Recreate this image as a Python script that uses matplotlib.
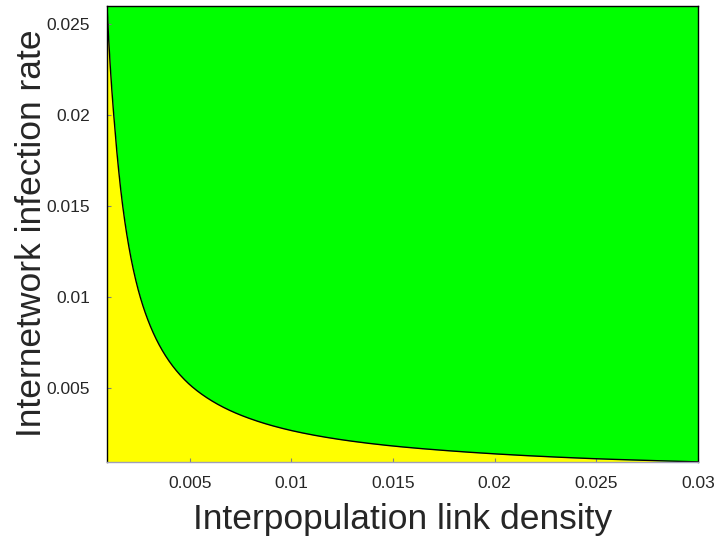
import matplotlib
matplotlib.use("Agg")
import numpy as np
from matplotlib import pyplot as plt

# threshold curve
link_density = [0.00093, 0.0011, 0.0013, 0.0015, 0.002, 0.0025, 0.003, 0.004,
                0.005, 0.006, 0.007, 0.008, 0.01, 0.0125, 0.015, 0.0175,
                0.02, 0.0225, 0.025, 0.0275, 0.03]
infection_rate = [0.0260, 0.0225, 0.0195, 0.0170, 0.0128, 0.01025, 0.00857, 0.00645,
                  0.00518, 0.00435, 0.00375, 0.00330, 0.00266, 0.00215, 0.00181, 0.00157,
                  0.00138, 0.00123, 0.00111, 0.00102, 0.00094]

x_ticks = [0.005, 0.01, 0.015, 0.02, 0.025, 0.03]
x_tick_labels = ["0.005", "0.01", "0.015", "0.02", "0.025", "0.03"]
y_ticks = [0.005, 0.01, 0.015, 0.02, 0.025]
y_tick_labels = ["0.005", "0.01", "0.015", "0.02", "0.025"]

X_MIN, X_MAX = 0.00093, 0.03
Y_MIN, Y_MAX = 0.00095, 0.026

plt.rcParams["font.family"] = ["Liberation Sans", "DejaVu Sans"]

fig = plt.figure(figsize=(7.19, 5.42), dpi=100)
ax = fig.add_axes([0.1488, 0.1482, 0.8220, 0.8413])

# interpolate the read points in log space so the curve looks continuous
xs = np.geomspace(link_density[0], link_density[-1], 400)
ys = np.exp(np.interp(np.log(xs), np.log(link_density), np.log(infection_rate)))

ax.fill_between(xs, Y_MIN, ys, color="#ffff00", linewidth=0)
ax.fill_between(xs, ys, Y_MAX, color="#00ff00", linewidth=0)
ax.plot(xs, ys, color="black", linewidth=1.0)

ax.set_xlim(X_MIN, X_MAX)
ax.set_ylim(Y_MIN, Y_MAX)
ax.set_xticks(x_ticks)
ax.set_xticklabels(x_tick_labels)
ax.set_yticks(y_ticks)
ax.set_yticklabels(y_tick_labels)
ax.tick_params(direction="in", length=3, width=0.8, color="#808080",
               labelsize=12.5, labelcolor="#262626")
ax.tick_params(axis="x", pad=10)
ax.tick_params(axis="y", pad=12)

for side in ["left", "top", "right"]:
    ax.spines[side].set_color("black")
    ax.spines[side].set_linewidth(1.0)
ax.spines["bottom"].set_color("#a0a0b8")
ax.spines["bottom"].set_linewidth(1.0)

ax.set_xlabel("Interpopulation link density", fontsize=25.5, color="#262626", labelpad=9)
ax.set_ylabel("Internetwork infection rate", fontsize=25.5, color="#262626")
ax.yaxis.set_label_coords(-0.100, 0.5)

fig.savefig("out.png", dpi=100)
